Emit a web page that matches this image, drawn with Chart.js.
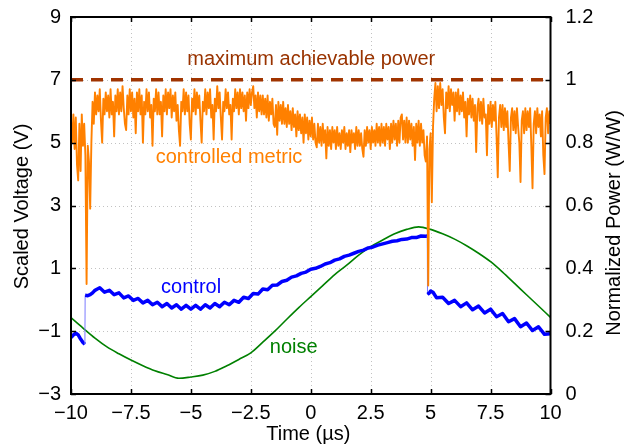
<!DOCTYPE html>
<html>
<head>
<meta charset="utf-8">
<style>html,body{margin:0;padding:0;background:#fff}canvas{display:block}</style>
<script src="https://cdn.jsdelivr.net/npm/chart.js@4"></script>
</head>
<body>
<canvas id="c" width="624" height="446"></canvas>
<script>
// ---------- tick labels ----------
const xTickLabels = ['\u221210','\u22127.5','\u22125','\u22122.5','0','2.5','5','7.5','10'];
const leftTickLabels = ['\u22123','\u22121','1','3','5','7','9'];
const rightTickLabels = ['0','0.2','0.4','0.6','0.8','1','1.2'];

// ---------- maximum achievable power (right axis, W/W) ----------
const maxPowerTime = [-10, 10];
const maxPowerValue = [1, 1];

// ---------- controlled metric (left axis, V), sampled every 0.05 us from -10 us ----------
const metricStart = -10, metricStep = 0.05;
const metricValue = [
 5.7,5.0,5.9,4.8,5.8,4.3,3.8,5.6,4.1,5.9,4.9,5.6,4.6,0.5,4.9,4.4,2.9,5.0,6.3,5.6,
 6.6,5.9,6.5,6.0,6.7,5.7,5.0,6.4,5.9,6.6,6.0,6.5,5.8,6.7,5.9,6.3,5.2,6.5,6.0,6.7,
 5.9,6.6,6.0,6.8,6.1,5.6,5.4,6.5,5.9,6.7,6.0,6.6,5.8,6.4,5.3,6.6,6.0,6.7,5.9,6.5,
 5.0,6.3,5.9,6.7,6.0,6.6,5.8,6.2,4.9,6.4,6.0,6.7,5.9,6.6,5.9,6.3,5.2,6.5,6.0,6.7,
 5.9,6.6,6.1,6.7,5.8,6.5,6.0,6.6,5.7,6.2,5.4,4.9,6.3,6.0,6.7,5.9,6.6,6.0,6.5,5.6,
 5.1,6.4,6.0,6.7,5.9,6.6,6.1,6.5,5.7,5.0,6.3,6.0,6.7,5.9,6.6,6.1,6.7,5.8,6.2,5.1,
 6.4,6.0,6.8,6.1,6.6,5.8,5.1,6.3,6.0,6.7,6.1,6.6,5.9,6.2,5.1,6.4,6.0,6.7,6.1,6.6,
 5.9,6.7,6.1,6.6,6.0,6.5,5.7,6.6,6.1,6.7,6.2,6.6,6.8,6.1,6.5,5.8,6.6,6.0,6.5,5.9,
 6.5,5.9,6.4,5.8,6.5,5.7,6.3,5.9,6.4,5.6,5.5,6.2,5.25,6.3,5.7,6.2,5.6,6.3,5.6,6.1,
 5.5,6.2,5.6,6.0,5.4,6.1,5.5,5.9,5.2,6.0,5.4,5.9,5.3,5.8,5.0,5.9,5.3,5.8,5.1,5.7,
 5.2,5.8,5.1,5.6,5.0,4.85,5.6,5.0,5.5,4.9,5.6,5.0,5.4,4.5,5.5,4.9,5.4,4.8,5.5,5.0,
 5.4,4.8,5.5,4.9,5.3,4.8,5.4,5.0,5.5,4.8,5.3,4.9,5.4,4.7,5.4,5.0,5.3,4.8,5.5,4.9,
 5.4,4.9,5.3,4.8,4.55,5.4,4.9,5.5,5.0,5.4,4.8,5.5,5.0,5.4,4.9,5.6,5.0,5.5,4.9,5.6,
 5.0,5.5,4.9,5.6,5.1,5.5,4.8,5.6,5.0,5.7,5.1,5.6,4.9,5.7,5.0,5.8,5.9,5.1,5.7,5.0,
 5.8,5.0,5.7,5.1,5.6,4.9,5.5,4.45,5.6,5.0,5.7,4.9,5.6,5.0,5.4,4.6,4.4,5.2,0.45,4.8,
 5.3,3.1,5.5,6.4,6.9,6.0,6.8,6.1,6.9,6.2,6.7,5.8,5.3,6.6,6.1,6.8,6.0,6.7,6.2,6.6,
 5.7,6.6,6.0,6.7,5.9,6.5,6.0,6.6,5.8,6.3,5.2,6.4,5.9,6.5,5.8,6.4,5.7,6.2,4.7,6.1,
 6.4,5.7,6.3,5.6,6.4,5.8,5.9,4.6,6.2,5.6,6.3,5.5,6.2,5.7,6.3,5.2,3.9,5.8,6.2,5.5,
 6.2,5.4,6.1,5.5,6.0,5.0,4.1,5.8,6.1,5.4,6.0,5.3,6.1,5.5,5.0,3.75,5.7,6.0,5.3,6.1,
 5.4,6.0,5.5,6.1,4.9,3.55,5.6,6.0,5.3,6.1,5.5,5.9,5.2,6.0,4.6,4.0,5.8,6.1,5.3,6.0,
 5.6
];

// ---------- control (left axis, V) ----------
const controlTime = [-10,-9.9,-9.8,-9.7,-9.6,-9.5,-9.42,-9.41,-9.3,-9.2,-9.1,-9.0,-8.9,-8.8,
 -8.6,-8.4,-8.2,-8.0,-7.8,-7.6,-7.4,-7.2,-7.0,-6.8,-6.6,-6.4,-6.2,-6.0,-5.8,-5.6,-5.4,-5.2,-5.0,
 -4.8,-4.6,-4.4,-4.2,-4.0,-3.8,-3.6,-3.4,-3.2,-3.0,-2.8,-2.6,-2.4,-2.2,-2.0,-1.8,-1.6,-1.4,-1.2,
 -1.0,-0.8,-0.6,-0.4,-0.2,0,0.2,0.4,0.6,0.8,1.0,1.2,1.4,1.6,1.8,2.0,2.2,2.4,2.6,2.8,3.0,3.2,3.4,
 3.6,3.8,4.0,4.2,4.4,4.6,4.8,4.86,4.87,4.95,5.0,5.1,5.25,5.5,5.75,6.0,6.25,6.5,6.75,7.0,7.25,
 7.5,7.75,8.0,8.25,8.5,8.75,9.0,9.25,9.5,9.75,10];
const controlValue = [-1.20,-1.12,-1.06,-1.12,-1.25,-1.36,-1.42,0.14,0.13,0.16,0.22,0.30,0.34,0.38,
 0.24,0.30,0.16,0.22,0.06,0.12,-0.02,0.04,-0.10,-0.02,-0.16,-0.08,-0.22,-0.12,-0.26,-0.16,-0.30,-0.18,-0.30,
 -0.18,-0.30,-0.16,-0.26,-0.12,-0.22,-0.08,-0.16,-0.02,-0.08,0.08,0.04,0.20,0.18,0.34,0.32,0.46,0.47,0.58,
 0.62,0.72,0.76,0.84,0.88,0.97,1.00,1.06,1.14,1.18,1.26,1.30,1.38,1.42,1.48,1.54,1.58,1.65,1.68,1.74,1.78,1.82,1.86,
 1.88,1.92,1.93,1.98,1.98,2.03,2.02,2.03,0.17,0.22,0.28,0.24,0.06,0.08,-0.12,-0.02,-0.22,-0.10,-0.32,-0.20,-0.42,
 -0.30,-0.54,-0.44,-0.70,-0.60,-0.86,-0.74,-0.98,-0.86,-1.10,-1.08];

// ---------- noise (left axis, V) ----------
const noiseTime = [-10,-9.5,-9,-8.5,-8,-7.5,-7,-6.5,-6,-5.5,-5,-4.5,-4,-3.5,-3,-2.5,-2,-1.5,-1,-0.5,
 0,0.5,1,1.5,2,2.5,3,3.5,4,4.5,5,5.5,6,6.5,7,7.5,8,8.5,9,9.5,10];
const noiseValue = [-0.57,-0.90,-1.22,-1.50,-1.72,-1.92,-2.10,-2.26,-2.38,-2.50,-2.46,-2.40,-2.28,-2.10,-1.90,-1.69,-1.35,-1.00,-0.62,-0.25,
 0.10,0.45,0.80,1.10,1.42,1.69,1.90,2.10,2.24,2.32,2.24,2.10,1.93,1.72,1.48,1.21,0.88,0.52,0.16,-0.20,-0.56];

// ---------- in-plot text labels ----------
const curveLabels = [
  {text:'maximum achievable power', t:0.02, v:7.47, color:'#993300'},
  {text:'controlled metric', t:-3.41, v:4.34, color:'#ff8000'},
  {text:'control', t:-4.99, v:0.22, color:'#0000ff'},
  {text:'noise', t:-0.71, v:-1.69, color:'#008000'}
];

const FONT = "'Liberation Sans', Arial, Helvetica, sans-serif";
Chart.defaults.font.family = FONT;
Chart.defaults.font.size = 20;
Chart.defaults.color = '#000';

const pts = (ts, vs) => vs.map((v, i) => ({x: ts[i], y: v}));
const metricPts = metricValue.map((v, i) => ({x: metricStart + i * metricStep, y: v}));

const framePlugin = {
  id: 'frame',
  beforeDatasetsDraw(chart) {
    const {ctx, chartArea: a, scales: {x, y}} = chart;
    ctx.save();
    ctx.strokeStyle = '#c2c2c2';
    ctx.lineWidth = 1;
    ctx.setLineDash([1, 3]);
    x.ticks.forEach(t => {
      if (t.value <= x.min || t.value >= x.max) return;
      const p = Math.round(x.getPixelForValue(t.value)) + 0.5;
      ctx.beginPath(); ctx.moveTo(p, a.top); ctx.lineTo(p, a.bottom); ctx.stroke();
    });
    y.ticks.forEach(t => {
      if (t.value <= y.min || t.value >= y.max) return;
      const p = Math.round(y.getPixelForValue(t.value)) + 0.5;
      ctx.beginPath(); ctx.moveTo(a.left, p); ctx.lineTo(a.right, p); ctx.stroke();
    });
    ctx.restore();
  },
  afterDatasetsDraw(chart) {
    const {ctx, chartArea: a, scales: {x, y, y2}} = chart;
    ctx.save();
    ctx.setLineDash([]);
    ctx.strokeStyle = '#000';
    ctx.lineWidth = 2;
    ctx.strokeRect(a.left, a.top, a.right - a.left, a.bottom - a.top);
    const tl = 5;
    ctx.lineWidth = 1.5;
    ctx.beginPath();
    x.ticks.forEach(t => {
      const p = Math.round(x.getPixelForValue(t.value)) + 0.5;
      ctx.moveTo(p, a.bottom); ctx.lineTo(p, a.bottom - tl);
      ctx.moveTo(p, a.top); ctx.lineTo(p, a.top + tl);
    });
    y.ticks.forEach(t => {
      const p = Math.round(y.getPixelForValue(t.value)) + 0.5;
      ctx.moveTo(a.left, p); ctx.lineTo(a.left + tl, p);
    });
    y2.ticks.forEach(t => {
      const p = Math.round(y2.getPixelForValue(t.value)) + 0.5;
      ctx.moveTo(a.right, p); ctx.lineTo(a.right - tl, p);
    });
    ctx.stroke();
    ctx.font = '20px ' + FONT;
    ctx.textAlign = 'center';
    ctx.textBaseline = 'alphabetic';
    curveLabels.forEach(l => {
      ctx.fillStyle = l.color;
      ctx.fillText(l.text, x.getPixelForValue(l.t), y.getPixelForValue(l.v));
    });
    ctx.fillStyle = '#000';
    ctx.fillText('Time (\u00b5s)', 308.3, 439.5);
    ctx.save();
    ctx.translate(27.8, 206.5); ctx.rotate(-Math.PI / 2);
    ctx.fillText('Scaled Voltage (V)', 0, 0);
    ctx.restore();
    ctx.save();
    ctx.translate(619.5, 223); ctx.rotate(-Math.PI / 2);
    ctx.fillText('Normalized Power (W/W)', 0, 0);
    ctx.restore();
    ctx.restore();
  }
};

const fitY = w => s => { s.width = w; s.paddingTop = 0; s.paddingBottom = 0; };

new Chart(document.getElementById('c'), {
  type: 'line',
  data: {
    datasets: [
      {label: 'maximum achievable power', data: pts(maxPowerTime, maxPowerValue), yAxisID: 'y2',
       borderColor: '#a03400', borderWidth: 3.5, borderDash: [12, 8], pointRadius: 0, borderCapStyle: 'butt'},
      {label: 'controlled metric', data: metricPts, yAxisID: 'y',
       borderColor: '#ff8000', borderWidth: 1.9, pointRadius: 0, borderJoinStyle: 'round'},
      {label: 'control', data: pts(controlTime, controlValue), yAxisID: 'y',
       borderColor: '#0000ff', borderWidth: 3.5, pointRadius: 0, borderJoinStyle: 'round',
       segment: {
         borderWidth: c => Math.abs(c.p1.parsed.y - c.p0.parsed.y) > 1 ? 1 : 3.5,
         borderColor: c => Math.abs(c.p1.parsed.y - c.p0.parsed.y) > 1 ? '#7a7aff' : '#0000ff'
       }},
      {label: 'noise', data: pts(noiseTime, noiseValue), yAxisID: 'y',
       borderColor: '#008000', borderWidth: 1.6, pointRadius: 0, cubicInterpolationMode: 'monotone'}
    ]
  },
  options: {
    responsive: false,
    animation: false,
    devicePixelRatio: 1,
    layout: {padding: {top: 17, left: 0, right: 0, bottom: 0}},
    plugins: {legend: {display: false}, tooltip: {enabled: false}},
    scales: {
      x: {type: 'linear', min: -10, max: 10,
          ticks: {stepSize: 2.5, autoSkip: false, maxRotation: 0, padding: 7, callback: (v, i) => xTickLabels[i]},
          grid: {display: false, drawTicks: false}, border: {display: false},
          afterFit: s => { s.height = 52; s.paddingLeft = 0; s.paddingRight = 0; }},
      y: {type: 'linear', position: 'left', min: -3, max: 9,
          ticks: {stepSize: 2, padding: 10, callback: (v, i) => leftTickLabels[i]},
          grid: {display: false, drawTicks: false}, border: {display: false},
          afterFit: fitY(71)},
      y2: {type: 'linear', position: 'right', min: 0, max: 1.2,
          ticks: {stepSize: 0.2, padding: 15, callback: (v, i) => rightTickLabels[i]},
          grid: {display: false, drawTicks: false}, border: {display: false},
          afterFit: fitY(73.5)}
    }
  },
  plugins: [framePlugin]
});
</script>
</body>
</html>
